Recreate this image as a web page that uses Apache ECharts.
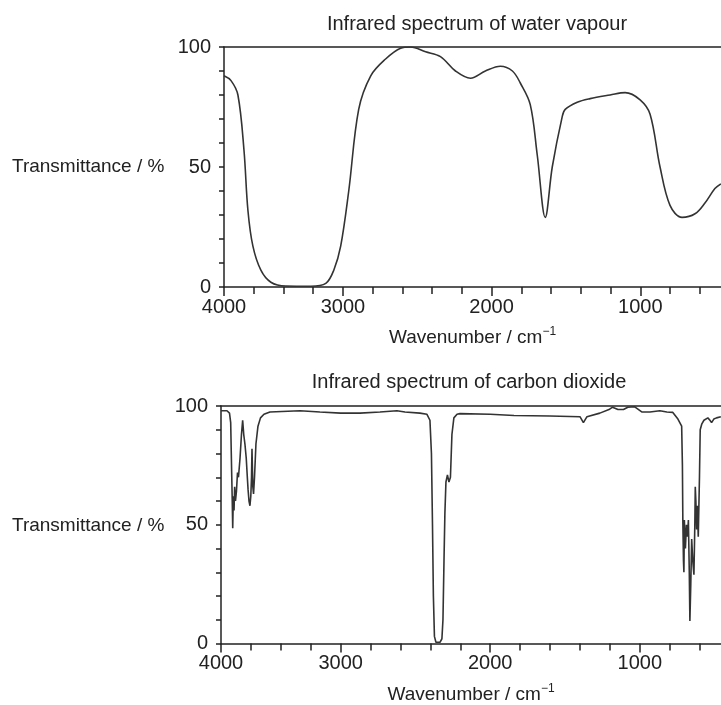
<!DOCTYPE html>
<html>
<head>
<meta charset="utf-8">
<script src="https://cdn.jsdelivr.net/npm/echarts@6/dist/echarts.min.js"></script>
<style>
  html, body { margin: 0; padding: 0; background: #fff; }
  #main { width: 721px; height: 705px; }
</style>
</head>
<body>
<div id="main"></div>
<script>
// water vapour: wavenumber (cm-1) and transmittance (%)
const waterWavenumber = [4000, 3941, 3883, 3832, 3799, 3757, 3690, 3606, 3480, 3270, 3144, 3077, 3019, 2961, 2894, 2813, 2713, 2612, 2545, 2444, 2344, 2243, 2142, 2042, 1941, 1860, 1807, 1740, 1693, 1639, 1592, 1525, 1505, 1424, 1337, 1203, 1102, 1001, 934, 867, 800, 719, 632, 565, 498, 458];
const waterT = [88, 86, 80, 57, 32, 17, 7, 2, 0.4, 0.3, 1.5, 7, 17, 40, 74, 88, 95, 99.5, 100, 98, 96, 90, 87, 90, 92, 90, 85, 76, 55, 29, 50, 71, 74, 77, 78.5, 80, 81, 78, 72, 50, 34, 29, 30.5, 35, 41, 43];

// carbon dioxide
const co2Wavenumber = [4000, 3950, 3929, 3919, 3914, 3910, 3906, 3902, 3897, 3891, 3886, 3879, 3871, 3862, 3854, 3841, 3829, 3819, 3810, 3800, 3789, 3780, 3774, 3766, 3758, 3751, 3745, 3741, 3734, 3728, 3720, 3708, 3691, 3670, 3641, 3591, 3340, 3173, 3000, 2871, 2737, 2624, 2570, 2470, 2423, 2403, 2393, 2386, 2380, 2373, 2363, 2336, 2323, 2316, 2309, 2303, 2296, 2286, 2276, 2266, 2256, 2243, 2222, 2202, 2000, 1841, 1601, 1400, 1377, 1353, 1267, 1206, 1182, 1146, 1109, 1080, 1036, 987, 932, 866, 819, 779, 745, 720, 715, 712, 708, 705, 702, 695, 688, 681, 675, 669, 665, 659, 653, 646, 638, 632, 629, 625, 620, 615, 609, 605, 601, 596, 585, 571, 558, 545, 531, 520, 505, 487, 458];
const co2T = [98, 98, 97, 93, 80, 70, 60, 48.5, 62, 56, 66, 60, 64, 72, 70, 78, 88, 94, 88, 84, 78, 70, 65, 60, 58, 62, 70, 82, 66, 63, 70, 84, 91.5, 95, 96.5, 97.5, 98, 97.5, 97, 97, 97.5, 98, 97.5, 97, 96.5, 94, 80, 50, 20, 3, 0.5, 0.5, 2, 10, 35, 55, 68, 71, 68, 70, 88, 95, 96.5, 96.8, 96.5, 96, 95.8, 95.5, 93, 95.5, 97, 98.5, 99.5, 98.5, 98.5, 99.5, 99.7, 97.5, 97.5, 98, 97.5, 97.3, 94.5, 91.5, 75, 51, 35, 30, 52, 40, 50, 45, 52, 30, 9.5, 25, 44, 35, 29, 50, 66, 60, 48, 58, 45, 45, 70, 90, 92.5, 94, 94.8, 95, 94, 93, 94.5, 95, 95.5];

const xTickLabels = [4000, 3000, 2000, 1000];
const yTickLabels = [0, 50, 100];

// the wavenumber scale is compressed above 3000 cm-1
function toAxis(w) {
  return w >= 3000 ? (4000 - w) * 0.8 : 800 + (3000 - w);
}
const axisMax = 3343;
const labelPos = xTickLabels.map(toAxis);

const font = "'Liberation Sans', Arial, Helvetica, sans-serif";
const ink = "#222";

function xAxes(gridIndex) {
  return [
    {
      gridIndex: gridIndex,
      type: "value",
      min: 0,
      max: axisMax,
      interval: 200,
      name: "Wavenumber / cm{sup|\u22121}",
      nameLocation: "middle",
      nameGap: 39,
      nameTextStyle: {
        color: ink,
        fontFamily: font,
        fontSize: 19,
        rich: {
          sup: { fontSize: 12, padding: [0, 0, 12, 0], color: ink, fontFamily: font },
        },
      },
      axisLine: { lineStyle: { color: ink, width: 1.5 } },
      axisTick: { length: 7, lineStyle: { color: ink, width: 1.5 } },
      axisLabel: {
        color: ink,
        fontFamily: font,
        fontSize: 20,
        margin: 10,
        showMaxLabel: false,
        formatter: (v) => {
          const i = labelPos.findIndex((p) => Math.abs(p - v) < 1);
          return i >= 0 ? String(xTickLabels[i]) : "";
        },
      },
      splitLine: { show: false },
    },
    {
      // frame line along 100 %
      gridIndex: gridIndex,
      type: "value",
      position: "top",
      min: 0,
      max: axisMax,
      axisLine: { lineStyle: { color: ink, width: 1.5 } },
      axisTick: { show: false },
      axisLabel: { show: false },
      splitLine: { show: false },
    },
    {
      // longer ticks under the labelled wavenumbers
      gridIndex: gridIndex,
      type: "value",
      position: "bottom",
      min: 0,
      max: axisMax,
      axisLine: { show: false },
      axisTick: {
        show: true,
        length: 9,
        customValues: labelPos,
        lineStyle: { color: ink, width: 1.5 },
      },
      axisLabel: { show: false },
      splitLine: { show: false },
    },
  ];
}

function yAxis(gridIndex) {
  return {
    gridIndex: gridIndex,
    type: "value",
    min: 0,
    max: 100,
    interval: 10,
    axisLine: { show: true, lineStyle: { color: ink, width: 1.5 } },
    axisTick: { show: true, length: 5, lineStyle: { color: ink, width: 1.5 } },
    axisLabel: {
      color: ink,
      fontFamily: font,
      fontSize: 20,
      margin: 13,
      formatter: (v) => (yTickLabels.indexOf(v) >= 0 ? String(v) : ""),
    },
    splitLine: { show: false },
  };
}

function spectrum(ws, ts, index, smooth) {
  return {
    type: "line",
    xAxisIndex: index * 3,
    yAxisIndex: index,
    data: ws.map((w, i) => [toAxis(w), ts[i]]),
    showSymbol: false,
    smooth: smooth,
    lineStyle: { color: "#333", width: 1.6 },
    animation: false,
  };
}

function label(text, x, y, align, size) {
  return {
    type: "text",
    x: x,
    y: y,
    style: {
      text: text,
      fill: ink,
      font: size + "px " + font,
      textAlign: align,
      textVerticalAlign: "middle",
    },
  };
}

const myChart = echarts.init(document.getElementById("main"));
myChart.setOption({
  animation: false,
  grid: [
    { left: 224, top: 47, right: 0, height: 240 },
    { left: 221, top: 406, right: 0, height: 240 },
  ],
  xAxis: [...xAxes(0), ...xAxes(1)],
  yAxis: [yAxis(0), yAxis(1)],
  series: [
    spectrum(waterWavenumber, waterT, 0, 0.35),
    spectrum(co2Wavenumber, co2T, 1, false),
  ],
  graphic: [
    label("Infrared spectrum of water vapour", 477, 24, "center", 20),
    label("Infrared spectrum of carbon dioxide", 469, 382, "center", 20),
    label("Transmittance / %", 12, 167, "left", 19),
    label("Transmittance / %", 12, 526, "left", 19),
  ],
});
</script>
</body>
</html>
